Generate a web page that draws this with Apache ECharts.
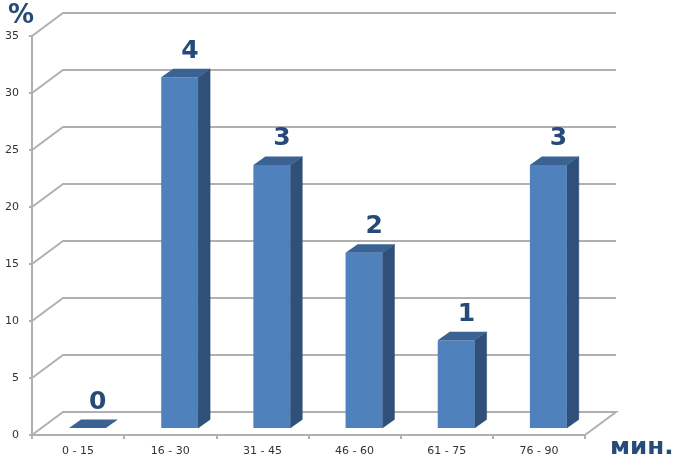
<!DOCTYPE html>
<html><head><meta charset="utf-8">
<style>html,body{margin:0;padding:0;background:#fff}#c{width:680px;height:467px}</style>
<script src="https://cdn.jsdelivr.net/npm/echarts@6/dist/echarts.min.js"></script>
</head><body><div id="c"></div>
<script>
const categories = ['0 - 15','16 - 30','31 - 45','46 - 60','61 - 75','76 - 90'];
const percents = [0, 30.77, 23.08, 15.38, 7.69, 23.08];
const counts = [0, 4, 3, 2, 1, 3];
const yTicks = [0, 5, 10, 15, 20, 25, 30, 35];

const FONT = '"DejaVu Sans", Verdana, sans-serif';
const NAVY = '#264B78';
const GREY = '#B0B0B0';
const WALL = [31, -23];
const BAR_SHIFT = [9.4, -7];
const BAR_DEPTH = [12, -8.5];
const lineStyle = {stroke:GREY, lineWidth:2, fill:null};

const chart = echarts.init(document.getElementById('c'), null, {renderer:'canvas'});
chart.setOption({
  animation:false,
  backgroundColor:'#fff',
  grid:{left:32, right:95, top:36, bottom:32},
  xAxis:{type:'category', data:categories, boundaryGap:true,
    axisLine:{lineStyle:{color:GREY, width:2}},
    axisTick:{show:true, length:4, alignWithLabel:false, lineStyle:{color:GREY, width:2}},
    axisLabel:{color:'#333', fontFamily:FONT, fontSize:11, margin:11, interval:0},
    splitLine:{show:false}},
  yAxis:{type:'value', min:0, max:35, interval:5,
    axisLine:{show:true, lineStyle:{color:GREY, width:2}},
    axisTick:{show:true, length:3, lineStyle:{color:GREY, width:2}},
    axisLabel:{color:'#333', fontFamily:FONT, fontSize:11, margin:13},
    splitLine:{show:false}},
  graphic:[
    {type:'text', x:8, y:3, style:{text:'%', font:'bold 26px '+FONT, fill:NAVY}},
    {type:'text', x:610, y:437, scaleX:1.07, style:{text:'мин.', font:'bold 23px '+FONT, fill:NAVY}}
  ],
  series:[
    {type:'custom', name:'wall', z:1, silent:true,
      data:yTicks.map(v=>[0,v]),
      renderItem(params, api){
        const g = params.coordSys;
        const p = api.coord([0, api.value(1)]);
        const y = p[1];
        const x0 = g.x, x1 = g.x + g.width;
        const pts = [[x0,y],[x0+WALL[0],y+WALL[1]],[x1+WALL[0],y+WALL[1]]];
        if (api.value(1) === 0) pts.push([x1,y]);
        return {type:'polyline', shape:{points:pts}, style:lineStyle};
      }},
    {type:'custom', name:'bars', z:3, silent:true,
      data:percents.map((v,i)=>[i,v,counts[i]]),
      renderItem(params, api){
        const base = api.coord([api.value(0),0]);
        const top = api.coord([api.value(0),api.value(1)]);
        const w = api.size([1,0])[0]*0.4;
        const l = base[0]-w/2+BAR_SHIFT[0], r = l+w;
        const yb = base[1]+BAR_SHIFT[1], yt = top[1]+BAR_SHIFT[1];
        const dx = BAR_DEPTH[0], dy = BAR_DEPTH[1];
        const kids = [];
        if (yb-yt > 0.5){
          kids.push({type:'polygon', shape:{points:[[r,yb],[r+dx,yb+dy],[r+dx,yt+dy],[r,yt]]},
            style:{fill:'#2F5179', stroke:'#264468', lineWidth:0.5}});
          kids.push({type:'rect', shape:{x:l,y:yt,width:w,height:yb-yt},
            style:{fill:'#4F81BD'}});
        }
        kids.push({type:'polygon', shape:{points:[[l,yt],[l+dx,yt+dy],[r+dx,yt+dy],[r,yt]]},
          style:{fill:'#3A6393'}});
        kids.push({type:'text', style:{text:String(api.value(2)), x:(l+r)/2+dx*0.85, y:yt+dy-5,
          align:'center', verticalAlign:'bottom', font:'bold 25px '+FONT, fill:NAVY}});
        return {type:'group', children:kids};
      }}
  ]
});
</script></body></html>
